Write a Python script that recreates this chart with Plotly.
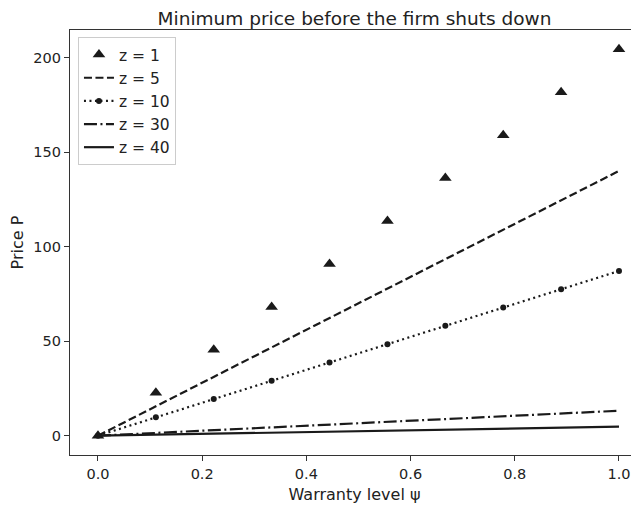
import plotly.graph_objects as go

warranty = [0.0, 0.1111, 0.2222, 0.3333, 0.4444, 0.5556, 0.6667, 0.7778, 0.8889, 1.0]
price_z1 = [0.0, 22.7, 45.4, 68.1, 90.8, 113.5, 136.2, 158.9, 181.6, 204.3]
price_z5 = [0.0, 15.6, 31.1, 46.7, 62.2, 77.8, 93.3, 108.9, 124.4, 140.0]
price_z10 = [0.0, 9.7, 19.4, 29.0, 38.7, 48.4, 58.1, 67.8, 77.4, 87.1]
price_z30 = [0.0, 1.5, 2.9, 4.4, 5.8, 7.3, 8.8, 10.2, 11.7, 13.2]
price_z40 = [0.0, 0.5, 1.1, 1.6, 2.1, 2.7, 3.2, 3.7, 4.3, 4.8]
x_ticks = [0, 0.2, 0.4, 0.6, 0.8, 1.0]
x_tick_labels = ["0.0", "0.2", "0.4", "0.6", "0.8", "1.0"]
y_ticks = [0, 50, 100, 150, 200]

ink = "#1a1a1a"
fig = go.Figure()
fig.add_trace(go.Scatter(x=warranty, y=price_z1, mode="markers", name="z = 1",
                         marker=dict(symbol="triangle-up", size=11, color=ink), legendgroup="a"))
fig.add_trace(go.Scatter(x=warranty, y=price_z5, mode="lines", name="z = 5",
                         line=dict(color=ink, width=2.2, dash="8px,3.5px"), legendgroup="b"))
fig.add_trace(go.Scatter(x=warranty, y=price_z10, mode="lines+markers", name="z = 10",
                         line=dict(color=ink, width=2.2, dash="2px,3.5px"),
                         marker=dict(symbol="circle", size=6, color=ink), legendgroup="c"))
fig.add_trace(go.Scatter(x=warranty, y=price_z30, mode="lines", name="z = 30",
                         line=dict(color=ink, width=2.2, dash="13px,3.5px,2px,3.5px"), legendgroup="d"))
fig.add_trace(go.Scatter(x=warranty, y=price_z40, mode="lines", name="z = 40",
                         line=dict(color=ink, width=2.2), legendgroup="e"))

axis_common = dict(showline=True, linecolor="#333", linewidth=1.3, ticks="outside",
                   ticklen=5, tickcolor="#333", tickwidth=1.2, showgrid=False, zeroline=False,
                   tickfont=dict(size=14.5, color="#222"))
fig.update_layout(
    width=631, height=502,
    margin=dict(l=62, r=0, t=22, b=55),
    paper_bgcolor="white", plot_bgcolor="white",
    font=dict(family="DejaVu Sans", color="#222"),
    title=dict(text="Minimum price before the firm shuts down", x=0.5, xref="paper",
               xanchor="center", y=0.992, yanchor="top", pad=dict(t=0, b=0),
               font=dict(size=18.5, color="#222")),
    xaxis=dict(range=[-0.0537, 1.0384], tickvals=x_ticks, ticktext=x_tick_labels, mirror=True,
               title=dict(text="Warranty level ψ", font=dict(size=16), standoff=8),
               **axis_common),
    yaxis=dict(range=[-10.2, 214.5], tickvals=y_ticks, mirror=False,
               title=dict(text="Price P", font=dict(size=16), standoff=12),
               **axis_common),
    legend=dict(x=0.014, y=0.9835, xanchor="left", yanchor="top",
                bgcolor="white", bordercolor="#cccccc", borderwidth=1,
                font=dict(size=15.5), tracegroupgap=0,
                entrywidth=64, entrywidthmode="pixels"),
    showlegend=True,
)
fig.write_html("out.html")
